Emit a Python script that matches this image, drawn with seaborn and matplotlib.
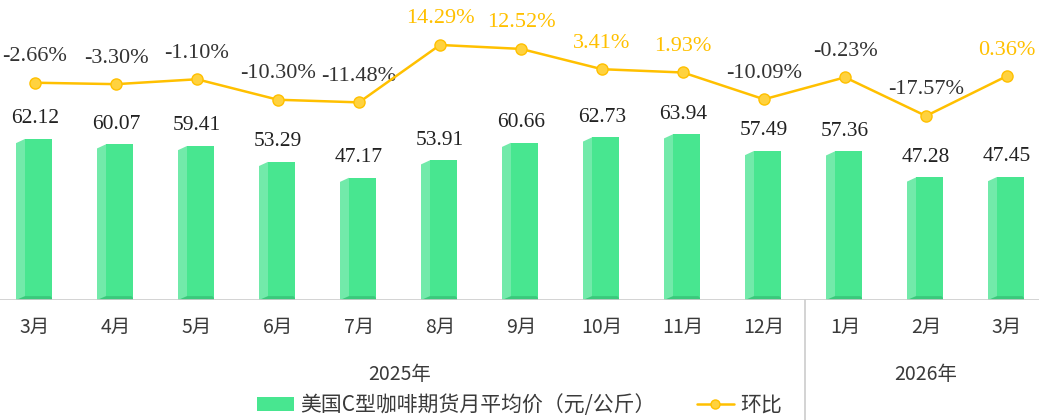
import numpy as np
import pandas as pd
import matplotlib
matplotlib.use("Agg")
import matplotlib.pyplot as plt
import matplotlib.transforms as mtransforms
from matplotlib.patches import Patch
from matplotlib.lines import Line2D
import seaborn as sns

# ---- data ----
months = ["3月", "4月", "5月", "6月", "7月", "8月", "9月", "10月", "11月", "12月", "1月", "2月", "3月"]
years = ["2025年", "2026年"]
year_groups = [10, 3]
prices = [62.12, 60.07, 59.41, 53.29, 47.17, 53.91, 60.66, 62.73, 63.94, 57.49, 57.36, 47.28, 47.45]
mom = [-2.66, -3.30, -1.10, -10.30, -11.48, 14.29, 12.52, 3.41, 1.93, -10.09, -0.23, -17.57, 0.36]
bar_name = "美国C型咖啡期货月平均价（元/公斤）"
line_name = "环比"

sns.set_theme(style="white")
plt.rcParams["font.family"] = ["Noto Sans CJK SC", "DejaVu Sans"]

FRONT = "#48E690"
SIDE = "#72EAAA"
BOTTOM = "#3BC97C"
GOLD = "#FFC000"
GREY = "#3a3a3a"
SERIF = ["Liberation Serif", "DejaVu Serif"]

fig = plt.figure(figsize=(10.39, 4.20), dpi=100)
ax = fig.add_axes([0, 120 / 420, 1, 300 / 420])
ax.set_facecolor("white")

idx = np.arange(len(prices))
off = 0.043
fw = 0.333
sw = 0.111
df = pd.DataFrame({"x": idx + off, "price": prices})
sns.barplot(data=df, x="x", y="price", native_scale=True, width=fw, color=FRONT,
            saturation=1, linewidth=0, edgecolor="none", ax=ax, zorder=3)

# side faces and bottoms (pseudo 3D), derived from values
for i, v in zip(idx, prices):
    xr = i + off - fw / 2
    xl = xr - sw
    ax.fill([xl, xl, xr, xr], [0, v - 1.6, v, 0], color=SIDE, lw=0, zorder=3)
    ax.fill([xl, xr, xr + fw - 0.02, xr + fw, xr + fw], [0, 1.5, 1.5, 0.8, 0],
            color=BOTTOM, lw=0, zorder=4)
    ax.annotate(f"{v:.2f}", (i, v), xytext=(0, 14.5), textcoords="offset points",
                ha="center", va="center", fontsize=15.5, family=SERIF, color="#222222")

ax.set_xlim(-35 / 81, (1039 - 35) / 81)
ax.set_ylim(0, 300 / 2.592)
ax.axhline(0, color="#cccccc", lw=1.2, zorder=5)
for s in ax.spines.values():
    s.set_visible(False)
ax.set_yticks([])
ax.set_xticks(idx)
ax.set_xticklabels(months, fontsize=14, color=GREY)
ax.tick_params(axis="x", length=0, pad=12)
ax.set_xlabel("")
ax.set_ylabel("")

# year labels and separator
trans = mtransforms.blended_transform_factory(ax.transData, ax.transAxes)
start = 0
for yl, n in zip(years, year_groups):
    center = start + (n - 1) / 2
    ax.text(center, -75 / 300, yl, transform=trans, ha="center", va="center",
            fontsize=14, color=GREY)
    start += n
    if start < len(prices):
        ax.plot([start - 0.5, start - 0.5], [0, -0.42], transform=trans, color="#cccccc",
                lw=1.2, clip_on=False)

# line on secondary axis
ax2 = ax.twinx()
ldf = pd.DataFrame({"x": idx, "mom": mom})
sns.lineplot(data=ldf, x="x", y="mom", ax=ax2, color=GOLD, lw=1.8, marker="o",
             markersize=8, markerfacecolor="#FFD23F", markeredgecolor=GOLD,
             markeredgewidth=1.0, zorder=6)
ax2.set_ylim((76.8 - 300) / 2.228, 76.8 / 2.228)
ax2.set_yticks([])
ax2.set_xlabel("")
ax2.set_ylabel("")
for s in ax2.spines.values():
    s.set_visible(False)
for i, v in zip(idx, mom):
    ax2.annotate(f"{v:.2f}%", (i, v), xytext=(0, 18.7), textcoords="offset points",
                 ha="center", va="center", fontsize=16, family=SERIF,
                 color=GOLD if v > 0 else "#333333")

handles = [Patch(facecolor=FRONT, edgecolor="none"),
           Line2D([0], [0], color=GOLD, lw=1.8, marker="o", markersize=6.5,
                  markerfacecolor="#FFD23F", markeredgecolor=GOLD)]
fig.legend(handles, [bar_name, line_name], loc="center", bbox_to_anchor=(0.500, 15 / 420),
           ncol=2, frameon=False, fontsize=15, labelcolor=GREY, handlelength=1.75,
           handleheight=0.65, columnspacing=2.0, handletextpad=0.3)

fig.savefig("out.png", dpi=100, facecolor="white")
